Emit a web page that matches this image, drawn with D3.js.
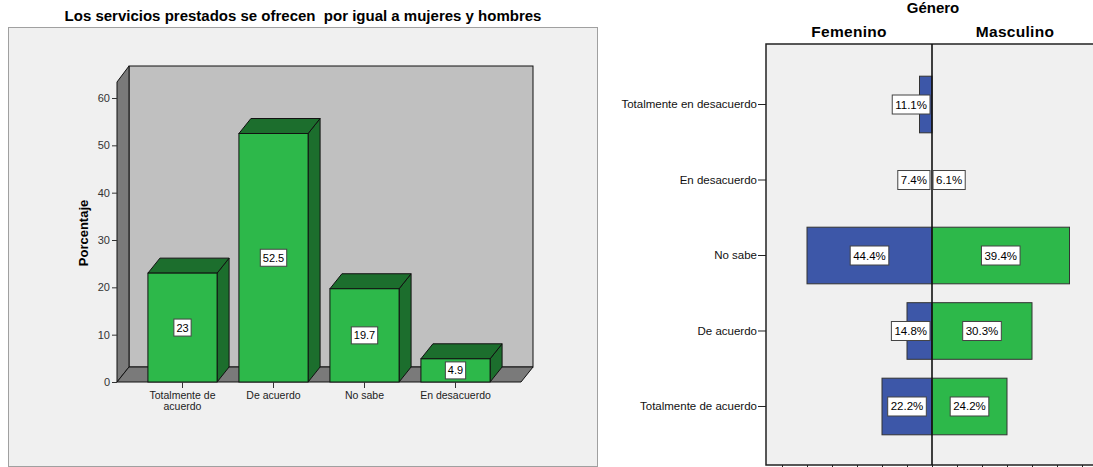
<!DOCTYPE html>
<html>
<head>
<meta charset="utf-8">
<script src="https://cdn.jsdelivr.net/npm/d3@7"></script>
<style>
  body { margin: 0; background: #ffffff; }
  svg { display: block; font-family: Arial, "Liberation Sans", sans-serif; }
</style>
</head>
<body>
<div id="chart"></div>
<script>
// left chart data
var barCats = ["Totalmente de acuerdo", "De acuerdo", "No sabe", "En desacuerdo"];
var barVals = [23, 52.5, 19.7, 4.9];
var yTicks = [0, 10, 20, 30, 40, 50, 60];

// right chart data (counts drive the bar length, pct is the label)
var pyrCats = ["Totalmente en desacuerdo", "En desacuerdo", "No sabe", "De acuerdo", "Totalmente de acuerdo"];
var femCount = [3, 2, 12, 4, 6];
var mascCount = [0, 2, 13, 10, 8];
var femPct = ["11.1%", "7.4%", "44.4%", "14.8%", "22.2%"];
var mascPct = ["", "6.1%", "39.4%", "30.3%", "24.2%"];
var xTicks = [2, 4, 6, 8, 10, 12, 14];

var W = 1093, H = 467;
var svg = d3.select("#chart").append("svg")
    .attr("width", W).attr("height", H);

var green = "#2db84a", darkGreen = "#1c6e2d", blue = "#3d57a8";

// ---------- left: 3D bar chart ----------
var g1 = svg.append("g");
g1.append("rect")
  .attr("x", 8.5).attr("y", 27.5).attr("width", 589).attr("height", 439)
  .attr("fill", "#f0f0f0").attr("stroke", "#a0a0a0");

g1.append("text")
  .attr("x", 303).attr("y", 21)
  .attr("text-anchor", "middle")
  .style("font-size", "15px").style("font-weight", "bold")
  .text("Los servicios prestados se ofrecen\u00a0 por igual a mujeres y hombres");

var dx = 12, dy = 15;
var x0 = 117, x1 = 521, yBase = 382;

var yScale = d3.scaleLinear().domain([0, 60]).range([yBase, 98]);
var xBand = d3.scaleBand().domain(barCats).range([137, 501])
  .paddingInner(0.24).paddingOuter(0.12);

// back wall
g1.append("rect")
  .attr("x", x0 + dx).attr("y", 66).attr("width", x1 - x0).attr("height", yBase - dy - 66)
  .attr("fill", "#c0c0c0").attr("stroke", "#111").attr("stroke-width", 1);
// left wall
g1.append("polygon")
  .attr("points", [[x0, yScale(60) - 16], [x0 + dx, 66], [x0 + dx, yBase - dy], [x0, yBase]].join(" "))
  .attr("fill", "#7a7a7a").attr("stroke", "#111");
// floor
g1.append("polygon")
  .attr("points", [[x0, yBase], [x0 + dx, yBase - dy], [x1 + dx, yBase - dy], [x1, yBase]].join(" "))
  .attr("fill", "#7a7a7a").attr("stroke", "#111");

// y axis
var yAxis = g1.append("g").attr("transform", "translate(" + x0 + ",0)")
  .call(d3.axisLeft(yScale).tickValues(yTicks).tickSize(5).tickPadding(2));
yAxis.select(".domain").remove();
yAxis.selectAll("line").attr("stroke", "#333");
yAxis.selectAll("text").style("font-size", "11px").attr("fill", "#333")
  .style("font-family", "Arial, 'Liberation Sans', sans-serif");

g1.append("text")
  .attr("transform", "translate(88,233) rotate(-90)")
  .attr("text-anchor", "middle")
  .style("font-size", "13px").style("font-weight", "bold")
  .text("Porcentaje");

// bars
var bars = g1.selectAll("g.bar").data(barCats).enter().append("g").attr("class", "bar");
bars.each(function(c, i) {
  var b = d3.select(this);
  var bx0 = xBand(c), bx1 = xBand(c) + xBand.bandwidth();
  var yt = yScale(barVals[i]);
  b.append("polygon")
    .attr("points", [[bx1, yt], [bx1 + dx, yt - dy], [bx1 + dx, yBase - dy], [bx1, yBase]].join(" "))
    .attr("fill", darkGreen).attr("stroke", "#111");
  b.append("polygon")
    .attr("points", [[bx0, yt], [bx0 + dx, yt - dy], [bx1 + dx, yt - dy], [bx1, yt]].join(" "))
    .attr("fill", darkGreen).attr("stroke", "#111");
  b.append("rect")
    .attr("x", bx0).attr("y", yt).attr("width", bx1 - bx0).attr("height", yBase - yt)
    .attr("fill", green).attr("stroke", "#111");
  // value label
  var cx = (bx0 + bx1) / 2, cy = (yt + yBase) / 2;
  var t = b.append("text").attr("x", cx).attr("y", cy + 4)
    .attr("text-anchor", "middle").style("font-size", "11px").text(barVals[i]);
  var w = t.node().getComputedTextLength() + 5;
  b.insert("rect", "text")
    .attr("x", cx - w / 2).attr("y", cy - 8.5).attr("width", w).attr("height", 17)
    .attr("fill", "#fff").attr("stroke", "#444");
});

// x ticks + labels
var xAxis = g1.append("g").attr("transform", "translate(0," + yBase + ")")
  .call(d3.axisBottom(xBand).tickSize(6).tickFormat(""));
xAxis.select(".domain").remove();
xAxis.selectAll("line").attr("stroke", "#333");
barCats.forEach(function(c) {
  var cx = xBand(c) + xBand.bandwidth() / 2;
  var lines = c == "Totalmente de acuerdo" ? ["Totalmente de", "acuerdo"] : [c];
  lines.forEach(function(l, j) {
    g1.append("text").attr("x", cx).attr("y", 399 + j * 10.5)
      .attr("text-anchor", "middle").style("font-size", "10.5px").attr("fill", "#222")
      .text(l);
  });
});

// ---------- right: population pyramid ----------
var g2 = svg.append("g");
var mid = 932, pTop = 44, pBot = 465, pLeft = 766;

var femX = d3.scaleLinear().domain([2, 15.28]).range([mid, pLeft]);
var mascX = d3.scaleLinear().domain([2, 15.28]).range([mid, mid + (mid - pLeft)]);
var yB = d3.scaleBand().domain(pyrCats).range([46, pBot]).paddingInner(0.25).paddingOuter(0.4);

g2.append("rect")
  .attr("x", pLeft).attr("y", pTop).attr("width", 2 * (mid - pLeft)).attr("height", pBot - pTop)
  .attr("fill", "#f0f0f0").attr("stroke", "#222").attr("stroke-width", 1.5);

g2.append("text").attr("x", 933).attr("y", 13).attr("text-anchor", "middle")
  .style("font-size", "15px").style("font-weight", "bold").text("Género");
g2.append("text").attr("x", 849).attr("y", 37).attr("text-anchor", "middle")
  .style("font-size", "15.5px").style("font-weight", "bold").style("letter-spacing", "0.3px")
  .text("Femenino");
g2.append("text").attr("x", 1015).attr("y", 37).attr("text-anchor", "middle")
  .style("font-size", "15.5px").style("font-weight", "bold").style("letter-spacing", "0.3px")
  .text("Masculino");

// bars
pyrCats.forEach(function(c, i) {
  var y = yB(c), h = yB.bandwidth();
  if (femCount[i] > 2) {
    g2.append("rect").attr("x", femX(femCount[i])).attr("y", y)
      .attr("width", mid - femX(femCount[i])).attr("height", h)
      .attr("fill", blue).attr("stroke", "#333");
  }
  if (mascCount[i] > 2) {
    g2.append("rect").attr("x", mid).attr("y", y)
      .attr("width", mascX(mascCount[i]) - mid).attr("height", h)
      .attr("fill", green).attr("stroke", "#333");
  }
});

// center line
g2.append("line").attr("x1", mid).attr("x2", mid).attr("y1", pTop).attr("y2", pBot)
  .attr("stroke", "#111").attr("stroke-width", 1.6);

// labels
function pctLabel(txt, cy, cx, side) {
  if (!txt) return;
  var t = g2.append("text").attr("y", cy + 4).attr("text-anchor", "middle")
    .style("font-size", "11.5px").text(txt);
  var w = t.node().getComputedTextLength() + 6;
  var bx = cx - w / 2;
  if (side < 0) bx = Math.min(bx, mid - w - 2);
  else bx = Math.max(bx, mid + 1);
  t.attr("x", bx + w / 2);
  g2.insert("rect", "text:last-child")
    .attr("x", bx).attr("y", cy - 9.5).attr("width", w).attr("height", 19)
    .attr("fill", "#fff").attr("stroke", "#444");
  t.raise();
}
pyrCats.forEach(function(c, i) {
  var cy = yB(c) + yB.bandwidth() / 2;
  pctLabel(femPct[i], cy, (femX(Math.max(femCount[i], 2)) + mid) / 2, -1);
  pctLabel(mascPct[i], cy, (mascX(Math.max(mascCount[i], 2)) + mid) / 2, 1);
});

// y axis (categories)
var pAxis = g2.append("g").attr("transform", "translate(" + pLeft + ",0)")
  .call(d3.axisLeft(yB).tickSize(8).tickPadding(1));
pAxis.select(".domain").remove();
pAxis.selectAll("line").attr("stroke", "#222");
pAxis.selectAll("text").style("font-size", "11.5px").attr("fill", "#111")
  .style("font-family", "Arial, 'Liberation Sans', sans-serif");

// bottom ticks (counts); their labels fall below the picture
var fAx = g2.append("g").attr("transform", "translate(0," + pBot + ")")
  .call(d3.axisBottom(femX).tickValues(xTicks).tickSize(4).tickFormat(""));
var mAx = g2.append("g").attr("transform", "translate(0," + pBot + ")")
  .call(d3.axisBottom(mascX).tickValues(xTicks).tickSize(4).tickFormat(""));
[fAx, mAx].forEach(function(a) {
  a.select(".domain").remove();
  a.selectAll("line").attr("stroke", "#222");
});
</script>
</body>
</html>
